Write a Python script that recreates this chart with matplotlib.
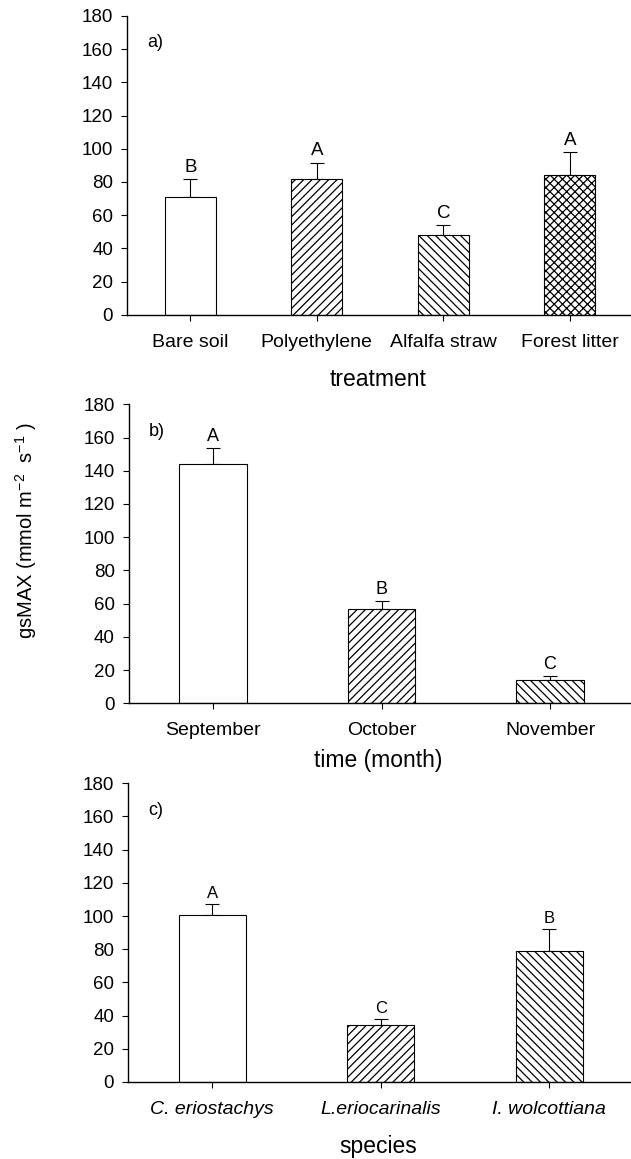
import matplotlib
matplotlib.use("Agg")
import matplotlib.pyplot as plt

plt.rcParams['font.family'] = ['Liberation Sans', 'DejaVu Sans']
plt.rcParams['hatch.linewidth'] = 0.9
plt.rcParams['mathtext.default'] = 'regular'

# Panel a: treatment
treat_cats = ["Bare soil", "Polyethylene", "Alfalfa straw", "Forest litter"]
treat_vals = [71, 82, 48, 84]
treat_err = [10.5, 9.5, 6, 14]
treat_letters = ["B", "A", "C", "A"]
treat_hatch = ["", "////", "\\\\\\\\", "xxxx"]

# Panel b: time
month_cats = ["September", "October", "November"]
month_vals = [144, 56.5, 13.8]
month_err = [9.5, 5, 2.5]
month_letters = ["A", "B", "C"]
month_hatch = ["", "////", "\\\\\\\\"]

# Panel c: species
sp_cats = ["C. eriostachys", "L.eriocarinalis", "I. wolcottiana"]
sp_vals = [100.5, 34.2, 79.2]
sp_err = [6.5, 3.6, 13]
sp_letters = ["A", "C", "B"]
sp_hatch = ["", "////", "\\\\\\\\"]

W, H = 631, 1159
fig = plt.figure(figsize=(W / 100, H / 100), dpi=100)

def make_ax(left_px, top_px, bottom_px, n):
    width_px = 126.5 * 4 if n == 4 else 168.5 * 3
    return fig.add_axes([left_px / W, 1 - bottom_px / H, width_px / W,
                         (bottom_px - top_px) / H])

panels = [
    (127, 16, 314.7, treat_cats, treat_vals, treat_err, treat_letters, treat_hatch,
     "treatment", 379, "a)", 13.5, False),
    (128.8, 404.3, 703.3, month_cats, month_vals, month_err, month_letters, month_hatch,
     "time (month)", 761, "b)", 13, False),
    (128, 783.3, 1082, sp_cats, sp_vals, sp_err, sp_letters, sp_hatch,
     "species", 1146, "c)", 12, True),
]

for (lx, ty, by, cats, vals, errs, letters, hatches, xlabel, xl_y, plabel,
     letter_fs, italic) in panels:
    n = len(cats)
    ax = make_ax(lx, ty, by, n)
    x = list(range(n))
    ax.bar(x, vals, width=0.4, color="white", edgecolor="black",
           linewidth=0.8, hatch=hatches, zorder=2)
    ax.errorbar(x, vals, yerr=[[0] * n, errs], fmt="none", ecolor="black",
                elinewidth=0.8, capsize=4.7, capthick=0.8, zorder=1)
    for xi, v, e, L in zip(x, vals, errs, letters):
        ax.annotate(L, (xi, v + e), xytext=(0, 2.5), textcoords="offset points",
                    ha="center", va="bottom", fontsize=letter_fs)
    ax.set_xlim(-0.5, n - 0.5)
    ax.set_ylim(0, 180)
    ax.set_yticks(range(0, 181, 20))
    ax.set_xticks(x)
    ax.set_xticklabels(cats, fontsize=14, style="italic" if italic else "normal")
    ax.tick_params(axis="y", labelsize=13.5, length=4, width=0.8, pad=6)
    ax.tick_params(axis="x", length=4.3, width=0.8, pad=9.5)
    for s in ("top", "right"):
        ax.spines[s].set_visible(False)
    for s in ("left", "bottom"):
        ax.spines[s].set_linewidth(1.0)
    ax.text(0.04, 0.91, plabel, transform=ax.transAxes, ha="left", va="center",
            fontsize=13)
    fig.text(378 / W, 1 - xl_y / H, xlabel, ha="center", va="center", fontsize=16.5)

fig.text(26 / W, 1 - 531 / H, "gsMAX (mmol m$^{-2}$  s$^{-1}$ )", rotation=90,
         ha="center", va="center", fontsize=14.5)

fig.savefig("out.png", dpi=100)
